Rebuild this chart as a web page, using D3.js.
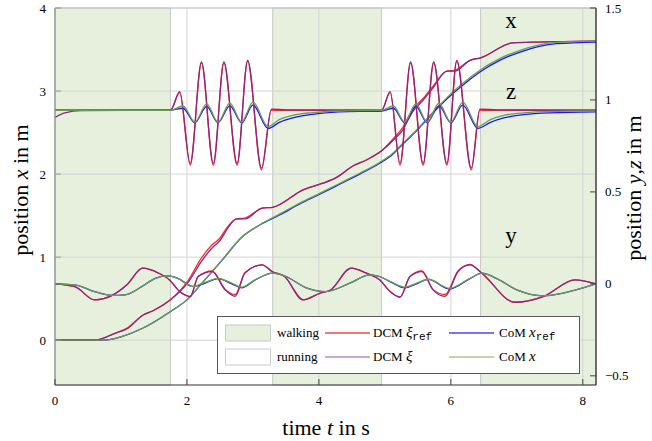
<!DOCTYPE html>
<html>
<head>
<meta charset="utf-8">
<script src="https://cdn.jsdelivr.net/npm/d3@7"></script>
<style>
body { margin: 0; background: #fff; }
text { font-family: "Liberation Serif", "DejaVu Serif", serif; fill: #000; }
</style>
</head>
<body>
<svg width="652" height="441"></svg>
<script>
// phases (time in s) where the robot walks; the rest is running
var walking = [[0, 1.75], [3.3, 4.95], [6.45, 8.2]];
var xTicks = [0, 2, 4, 6, 8];
var leftTicks = [0, 1, 2, 3, 4];
var rightTicks = [-0.5, 0, 0.5, 1, 1.5];

// x direction, left axis  [t, value]
var xDcmRef = [[0,0],[0.6,0],[0.9,0.08],[1.1,0.15],[1.33,0.3],[1.5,0.36],[1.74,0.48],[2.02,0.72],[2.22,0.99],[2.37,1.14],[2.5,1.23],[2.62,1.37],[2.75,1.46],[2.88,1.47],[3.14,1.59],[3.3,1.6],[3.76,1.81],[4.06,1.89],[4.27,1.96],[4.52,2.1],[4.72,2.17],[4.95,2.28],[5.13,2.43],[5.27,2.56],[5.42,2.78],[5.58,2.91],[5.73,3.06],[5.94,3.24],[6.06,3.25],[6.29,3.37],[6.45,3.4],[6.94,3.58],[7.35,3.59],[8.2,3.6]];
var xDcm = [[0,0],[0.6,0],[0.9,0.08],[1.1,0.14],[1.33,0.3],[1.5,0.36],[1.74,0.48],[2.02,0.7],[2.23,0.96],[2.38,1.11],[2.5,1.2],[2.62,1.35],[2.75,1.46],[2.88,1.46],[3.14,1.59],[3.3,1.6],[3.76,1.81],[4.06,1.89],[4.27,1.96],[4.52,2.1],[4.72,2.17],[4.95,2.28],[5.13,2.41],[5.27,2.53],[5.42,2.75],[5.58,2.89],[5.73,3.04],[5.94,3.24],[6.06,3.24],[6.29,3.37],[6.45,3.4],[6.94,3.58],[7.35,3.59],[8.2,3.6]];
var xComRef = [[0,0],[0.76,0],[1.0,0.04],[1.32,0.14],[1.74,0.34],[2.02,0.5],[2.23,0.69],[2.53,0.96],[2.83,1.24],[3.11,1.39],[3.41,1.51],[3.71,1.64],[4.02,1.76],[4.32,1.88],[4.62,2.0],[4.92,2.13],[5.12,2.24],[5.27,2.36],[5.48,2.52],[5.64,2.66],[5.83,2.82],[6.03,2.97],[6.24,3.11],[6.44,3.23],[6.74,3.37],[7.05,3.47],[7.6,3.57],[8.2,3.59]];
var xCom = [[0,0],[0.76,0],[1.0,0.04],[1.32,0.14],[1.74,0.34],[2.02,0.5],[2.23,0.69],[2.53,0.96],[2.83,1.24],[3.11,1.39],[3.41,1.52],[3.71,1.65],[4.02,1.77],[4.32,1.89],[4.62,2.01],[4.92,2.14],[5.12,2.25],[5.27,2.37],[5.48,2.53],[5.64,2.67],[5.83,2.83],[6.03,2.99],[6.24,3.13],[6.44,3.25],[6.74,3.39],[7.05,3.49],[7.6,3.585],[8.2,3.6]];

// z direction, right axis
var zDcmRef = [[0,0.944],[1.75,0.944],[1.89,1.04],[2.05,0.645],[2.22,1.2],[2.4,0.645],[2.56,1.2],[2.76,0.645],[2.92,1.21],[3.13,0.62],[3.28,0.944],[4.95,0.944],[5.08,1.04],[5.23,0.645],[5.39,1.2],[5.58,0.645],[5.74,1.2],[5.94,0.645],[6.09,1.21],[6.31,0.62],[6.44,0.944],[8.2,0.944]];
var zDcm = [[0,0.905],[0.15,0.93],[0.4,0.942],[1.75,0.944],[1.89,1.045],[2.05,0.655],[2.22,1.207],[2.4,0.655],[2.56,1.207],[2.76,0.655],[2.92,1.215],[3.13,0.63],[3.28,0.95],[3.5,0.946],[4.95,0.944],[5.08,1.045],[5.23,0.655],[5.39,1.207],[5.58,0.655],[5.74,1.207],[5.94,0.655],[6.09,1.215],[6.31,0.63],[6.44,0.95],[6.7,0.946],[8.2,0.944]];
var zComRef = [[0,0.944],[1.75,0.944],[1.94,0.955],[2.12,0.876],[2.3,0.965],[2.47,0.876],[2.65,0.968],[2.83,0.876],[3.0,0.972],[3.23,0.845],[3.4,0.878],[3.6,0.902],[3.9,0.922],[4.3,0.935],[4.95,0.94],[5.13,0.955],[5.3,0.876],[5.47,0.965],[5.64,0.876],[5.82,0.968],[6.0,0.876],[6.18,0.972],[6.41,0.845],[6.6,0.878],[6.8,0.902],[7.1,0.92],[7.5,0.93],[8.2,0.935]];
var zCom = [[0,0.944],[1.75,0.944],[1.94,0.967],[2.12,0.88],[2.3,0.979],[2.47,0.88],[2.65,0.982],[2.83,0.88],[3.0,0.988],[3.23,0.855],[3.4,0.893],[3.6,0.916],[3.9,0.931],[4.3,0.94],[4.95,0.944],[5.13,0.967],[5.3,0.88],[5.47,0.979],[5.64,0.88],[5.82,0.982],[6.0,0.88],[6.18,0.988],[6.41,0.855],[6.6,0.893],[6.8,0.916],[7.1,0.93],[7.5,0.938],[8.2,0.941]];

// y direction, right axis
var yDcmRef = [[0,0],[0.3,-0.015],[0.6,-0.087],[0.88,-0.06],[1.09,-0.005],[1.33,0.085],[1.56,0.06],[1.74,0.02],[1.89,-0.042],[2.05,-0.069],[2.17,0.04],[2.38,0.07],[2.58,-0.03],[2.73,-0.058],[2.88,0.06],[3.14,0.103],[3.29,0.067],[3.48,0.04],[3.76,-0.087],[4.02,-0.05],[4.17,-0.035],[4.49,0.085],[4.72,0.058],[4.92,0.022],[5.08,-0.042],[5.23,-0.072],[5.38,0.04],[5.56,0.07],[5.73,-0.03],[5.91,-0.058],[6.11,0.07],[6.29,0.106],[6.47,0.058],[6.97,-0.1],[7.4,-0.069],[7.88,0.022],[8.2,0]];
var yDcm = [[0,0],[0.3,-0.015],[0.6,-0.087],[0.88,-0.06],[1.09,-0.005],[1.33,0.085],[1.56,0.06],[1.74,0.02],[1.89,-0.042],[2.05,-0.069],[2.17,0.04],[2.38,0.067],[2.58,-0.033],[2.73,-0.068],[2.88,0.06],[3.14,0.103],[3.29,0.067],[3.48,0.04],[3.76,-0.087],[4.02,-0.05],[4.17,-0.035],[4.49,0.085],[4.72,0.058],[4.92,0.022],[5.08,-0.042],[5.23,-0.072],[5.38,0.04],[5.56,0.067],[5.73,-0.033],[5.91,-0.068],[6.11,0.067],[6.29,0.103],[6.47,0.058],[6.97,-0.1],[7.4,-0.069],[7.88,0.022],[8.2,0]];
var yComRef = [[0,0],[0.3,-0.005],[0.6,-0.042],[0.86,-0.063],[1.06,-0.06],[1.32,-0.014],[1.52,0.03],[1.71,0.043],[1.86,0.03],[2.09,-0.014],[2.27,0.003],[2.47,0.028],[2.68,0.0],[2.83,-0.022],[3.03,0.02],[3.3,0.058],[3.5,0.04],[3.8,-0.02],[4.1,-0.042],[4.47,0.004],[4.77,0.049],[4.92,0.04],[5.1,0.008],[5.3,-0.022],[5.48,0.0],[5.66,0.024],[5.98,-0.028],[6.29,0.028],[6.47,0.058],[6.69,0.03],[7.0,-0.033],[7.4,-0.065],[7.7,-0.05],[8.2,0]];
var yCom = [[0,0],[0.3,-0.005],[0.6,-0.042],[0.86,-0.063],[1.06,-0.06],[1.32,-0.014],[1.52,0.03],[1.71,0.043],[1.86,0.03],[2.09,-0.014],[2.27,0.007],[2.47,0.03],[2.68,0.004],[2.83,-0.018],[3.03,0.022],[3.3,0.058],[3.5,0.04],[3.8,-0.02],[4.1,-0.042],[4.47,0.004],[4.77,0.049],[4.92,0.04],[5.1,0.01],[5.3,-0.018],[5.48,0.004],[5.66,0.025],[5.98,-0.024],[6.29,0.03],[6.47,0.058],[6.69,0.03],[7.0,-0.033],[7.4,-0.065],[7.7,-0.05],[8.2,0]];

var svg = d3.select("svg");
var pLeft = 55, pRight = 596, pTop = 8, pBottom = 385;

var x = d3.scaleLinear().domain([0, 8.2]).range([pLeft, pRight]);
var yL = d3.scaleLinear().domain([-0.54, 4]).range([pBottom, pTop]);
var yR = d3.scaleLinear().domain([-0.55, 1.5]).range([pBottom, pTop]);

svg.append("defs").append("clipPath").attr("id", "plot")
    .append("rect").attr("x", pLeft).attr("y", pTop)
    .attr("width", pRight - pLeft).attr("height", pBottom - pTop);

// walking phases shaded
svg.selectAll(".phase").data(walking).enter().append("rect")
    .attr("x", function(d) { return x(d[0]); })
    .attr("y", pTop)
    .attr("width", function(d) { return x(d[1]) - x(d[0]); })
    .attr("height", pBottom - pTop)
    .attr("fill", "#e6f0dd")
    .attr("stroke", "#c9c9c9")
    .attr("stroke-width", 1);

// grid
svg.selectAll(".gx").data(xTicks).enter().append("line")
    .attr("x1", function(d) { return x(d); }).attr("x2", function(d) { return x(d); })
    .attr("y1", pTop).attr("y2", pBottom)
    .attr("stroke", "#d4d4d4").attr("stroke-width", 1);
svg.selectAll(".gy").data(leftTicks).enter().append("line")
    .attr("x1", pLeft).attr("x2", pRight)
    .attr("y1", function(d) { return yL(d); }).attr("y2", function(d) { return yL(d); })
    .attr("stroke", "#d4d4d4").attr("stroke-width", 1);

// curves
var lines = svg.append("g").attr("clip-path", "url(#plot)");
function curve(data, yScale, color, w) {
    lines.append("path")
        .datum(data)
        .attr("d", d3.line()
            .x(function(d) { return x(d[0]); })
            .y(function(d) { return yScale(d[1]); })
            .curve(d3.curveMonotoneX))
        .attr("fill", "none")
        .attr("stroke", color)
        .attr("stroke-width", w);
}
var cRed = "#ff2a2a", cBlue = "#1515ff", cPurple = "#8c2680", cGreen = "#6c9d4e";
curve(xDcmRef, yL, cRed, 1.3);
curve(xComRef, yL, cBlue, 1.3);
curve(xDcm, yL, cPurple, 1.3);
curve(xCom, yL, cGreen, 1.3);
curve(zDcmRef, yR, cRed, 1.3);
curve(zComRef, yR, cBlue, 1.3);
curve(zDcm, yR, cPurple, 1.3);
curve(zCom, yR, cGreen, 1.3);
curve(yDcmRef, yR, cRed, 1.3);
curve(yComRef, yR, cBlue, 1.3);
curve(yDcm, yR, cPurple, 1.3);
curve(yCom, yR, cGreen, 1.3);

// frame
svg.append("line").attr("x1", pLeft).attr("x2", pRight).attr("y1", pTop).attr("y2", pTop)
    .attr("stroke", "#c4c4c4");
svg.append("line").attr("x1", pLeft).attr("x2", pLeft).attr("y1", pTop).attr("y2", pBottom)
    .attr("stroke", "#8f8f8f").attr("stroke-width", 1.2);
svg.append("line").attr("x1", pLeft).attr("x2", pRight).attr("y1", pBottom).attr("y2", pBottom)
    .attr("stroke", "#333").attr("stroke-width", 1.2);
svg.append("line").attr("x1", pRight).attr("x2", pRight).attr("y1", pTop).attr("y2", pBottom)
    .attr("stroke", "#222").attr("stroke-width", 1.2);

// tick marks and labels
svg.selectAll(".tx").data(xTicks).enter().append("line")
    .attr("x1", function(d) { return x(d); }).attr("x2", function(d) { return x(d); })
    .attr("y1", pBottom).attr("y2", pBottom - 6)
    .attr("stroke", "#444");
svg.selectAll(".lx").data(xTicks).enter().append("text")
    .attr("x", function(d) { return x(d); }).attr("y", 405)
    .attr("text-anchor", "middle").attr("font-size", 13)
    .text(function(d) { return d; });

svg.selectAll(".tl").data(leftTicks).enter().append("line")
    .attr("x1", pLeft).attr("x2", pLeft + 6)
    .attr("y1", function(d) { return yL(d); }).attr("y2", function(d) { return yL(d); })
    .attr("stroke", "#999");
svg.selectAll(".ll").data(leftTicks).enter().append("text")
    .attr("x", 46).attr("y", function(d) { return yL(d) + 4.5; })
    .attr("text-anchor", "end").attr("font-size", 13)
    .text(function(d) { return d; });

svg.selectAll(".tr").data(rightTicks).enter().append("line")
    .attr("x1", pRight - 6).attr("x2", pRight)
    .attr("y1", function(d) { return yR(d); }).attr("y2", function(d) { return yR(d); })
    .attr("stroke", "#444");
svg.selectAll(".lr").data(rightTicks).enter().append("text")
    .attr("x", 605).attr("y", function(d) { return yR(d) + 4.5; })
    .attr("text-anchor", "start").attr("font-size", 13)
    .text(function(d) { return d < 0 ? "\u2212" + Math.abs(d) : d; });

// axis titles
var xt = svg.append("text").attr("x", 326).attr("y", 435)
    .attr("text-anchor", "middle").attr("font-size", 22);
xt.append("tspan").text("time ");
xt.append("tspan").attr("font-style", "italic").text("t");
xt.append("tspan").text(" in s");

var lt = svg.append("text").attr("transform", "translate(28,190) rotate(-90)")
    .attr("text-anchor", "middle").attr("font-size", 22);
lt.append("tspan").text("position ");
lt.append("tspan").attr("font-style", "italic").text("x");
lt.append("tspan").text(" in m");

var rt = svg.append("text").attr("transform", "translate(641,188) rotate(-90)")
    .attr("text-anchor", "middle").attr("font-size", 22);
rt.append("tspan").text("position ");
rt.append("tspan").attr("font-style", "italic").text("y");
rt.append("tspan").text(",");
rt.append("tspan").attr("font-style", "italic").text("z");
rt.append("tspan").text(" in m");

// direction labels
var dirLabels = [["x", 28], ["z", 99], ["y", 243]];
svg.selectAll(".dir").data(dirLabels).enter().append("text")
    .attr("x", 511).attr("y", function(d) { return d[1]; })
    .attr("text-anchor", "middle").attr("font-size", 23)
    .text(function(d) { return d[0]; });

// legend
var lg = svg.append("g");
lg.append("rect").attr("x", 217.5).attr("y", 316.5).attr("width", 362).attr("height", 57)
    .attr("fill", "#fff").attr("stroke", "#555").attr("stroke-width", 1);
var rows = [333, 357];
lg.append("rect").attr("x", 225.5).attr("y", rows[0] - 8).attr("width", 45).attr("height", 16)
    .attr("fill", "#e6f0dd").attr("stroke", "#c9c9c9");
lg.append("rect").attr("x", 225.5).attr("y", rows[1] - 8).attr("width", 45).attr("height", 16)
    .attr("fill", "#fff").attr("stroke", "#c9c9c9");
lg.append("text").attr("x", 277).attr("y", rows[0] + 4).attr("font-size", 13).text("walking");
lg.append("text").attr("x", 277).attr("y", rows[1] + 4).attr("font-size", 13).text("running");

var legLines = [[325, rows[0], "#f04848"], [325, rows[1], "#b78bcb"], [449, rows[0], "#4848f2"], [449, rows[1], "#a8c98b"]];
lg.selectAll(".ll2").data(legLines).enter().append("line")
    .attr("x1", function(d) { return d[0]; }).attr("x2", function(d) { return d[0] + 45; })
    .attr("y1", function(d) { return d[1]; }).attr("y2", function(d) { return d[1]; })
    .attr("stroke", function(d) { return d[2]; }).attr("stroke-width", 1.5);

function legText(xp, yp, name, sym, sub) {
    var t = lg.append("text").attr("x", xp).attr("y", yp + 4).attr("font-size", 13);
    t.append("tspan").text(name + " ");
    t.append("tspan").attr("font-style", "italic").attr("font-size", 15).text(sym);
    if (sub) {
        t.append("tspan").attr("font-family", "Liberation Mono, DejaVu Sans Mono, monospace")
            .attr("font-size", 11).attr("dy", 3).text(sub);
    }
}
legText(373, rows[0], "DCM", "\u03be", "ref");
legText(373, rows[1], "DCM", "\u03be", null);
legText(499, rows[0], "CoM", "x", "ref");
legText(499, rows[1], "CoM", "x", null);
</script>
</body>
</html>
